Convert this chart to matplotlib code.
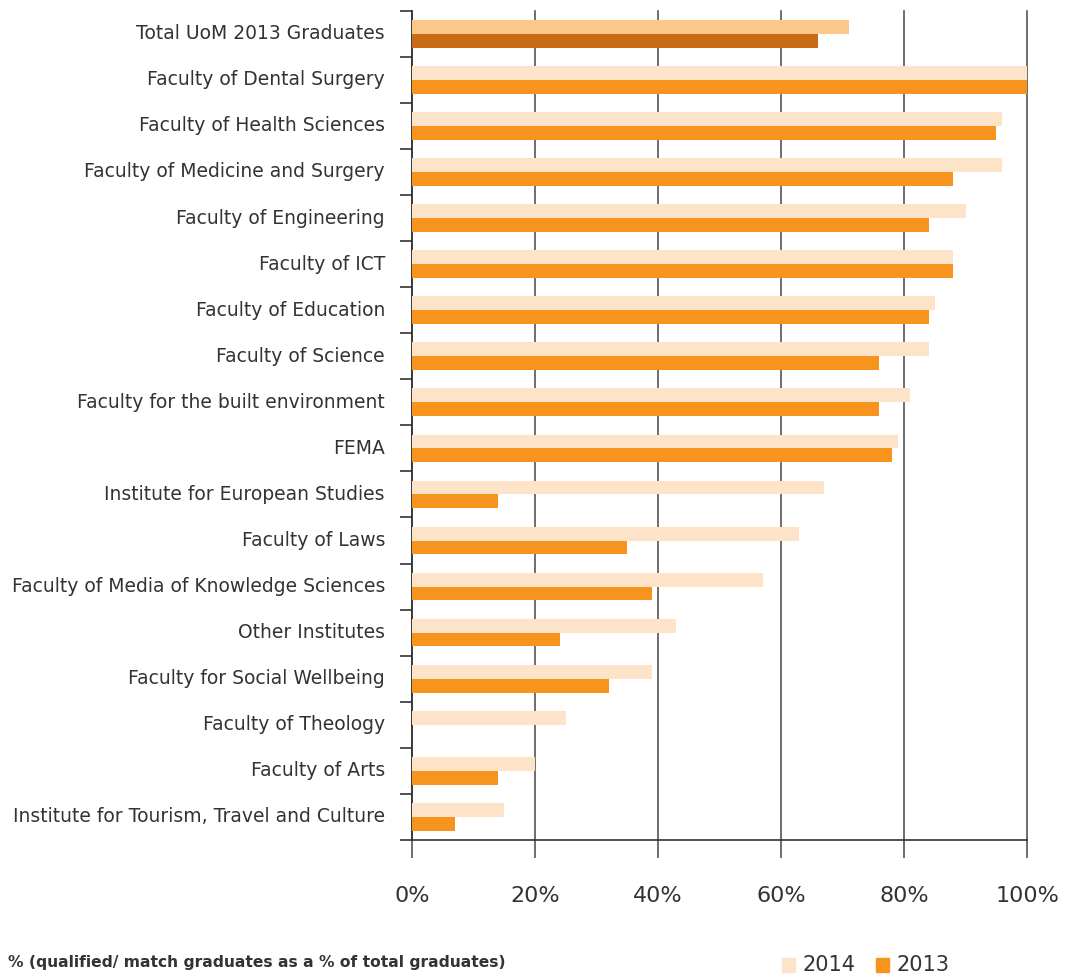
import numpy as np
import matplotlib.pyplot as plt
from matplotlib.patches import Rectangle

categories = [
    "Total UoM 2013 Graduates",
    "Faculty of Dental Surgery",
    "Faculty of Health Sciences",
    "Faculty of Medicine and Surgery",
    "Faculty of Engineering",
    "Faculty of ICT",
    "Faculty of Education",
    "Faculty of Science",
    "Faculty for the built environment",
    "FEMA",
    "Institute for European Studies",
    "Faculty of Laws",
    "Faculty of Media of Knowledge Sciences",
    "Other Institutes",
    "Faculty for Social Wellbeing",
    "Faculty of Theology",
    "Faculty of Arts",
    "Institute for Tourism, Travel and Culture",
]
values_2014 = [71, 100, 96, 96, 90, 88, 85, 84, 81, 79, 67, 63, 57, 43, 39, 25, 20, 15]
values_2013 = [66, 100, 95, 88, 84, 88, 84, 76, 76, 78, 14, 35, 39, 24, 32, 0, 14, 7]
xticks = [0, 20, 40, 60, 80, 100]
xtick_labels = ["0%", "20%", "40%", "60%", "80%", "100%"]

c14, c13 = "#FDE4C8", "#F7941E"
c14_total, c13_total = "#FBC78B", "#C96A16"
txt = "#333333"

plt.rcParams['font.family'] = ['DejaVu Sans']

fig = plt.figure(figsize=(10.7, 9.74), dpi=100)
ax = fig.add_axes([412 / 1070, 1 - 840 / 974, 615 / 1070, 829.3 / 974])

y = np.arange(len(categories))
h = 0.30
cols14 = [c14_total] + [c14] * (len(categories) - 1)
cols13 = [c13_total] + [c13] * (len(categories) - 1)
ax.barh(y - h / 2, values_2014, height=h, color=cols14, zorder=3)
ax.barh(y + h / 2, values_2013, height=h, color=cols13, zorder=3)

ax.set_xlim(0, 100)
ax.set_ylim(len(categories) - 0.5, -0.5)

# y ticks sit on the category boundaries, names in the middle
ax.set_yticks(np.arange(len(categories) + 1) - 0.5)
ax.set_yticklabels([])
ax.tick_params(axis='y', length=9, width=1.2, color=txt, direction='out')
for i, name in enumerate(categories):
    ax.text(-27 / 615 * 100, i, name, ha='right', va='center',
            fontsize=13.5, color=txt)

ax.set_xticks(xticks)
ax.set_xticklabels(xtick_labels, fontsize=16, color=txt)
ax.tick_params(axis='x', length=13, width=1.2, color='#555555', pad=20)
ax.grid(axis='x', color='#555555', linewidth=1.2, zorder=1)
ax.set_axisbelow(True)
for gl in ax.get_xgridlines():
    gl.set_clip_on(False)

for s in ['top', 'right']:
    ax.spines[s].set_visible(False)
for s in ['left', 'bottom']:
    ax.spines[s].set_color(txt)
    ax.spines[s].set_linewidth(1.2)

fig.text(8 / 1070, 1 - 962 / 974, "% (qualified/ match graduates as a % of total graduates)",
         fontsize=11.2, fontweight='bold', color=txt, va='center', ha='left')

# legend
for xpos, col, lab in [(782, c14, "2014"), (876, c13, "2013")]:
    fig.patches.append(Rectangle((xpos / 1070, 1 - 972 / 974), 13 / 1070, 14 / 974,
                                 transform=fig.transFigure, color=col))
    fig.text((xpos + 21) / 1070, 1 - 965 / 974, lab, fontsize=15, color=txt,
             va='center', ha='left')

fig.savefig("out.png", dpi=100)
